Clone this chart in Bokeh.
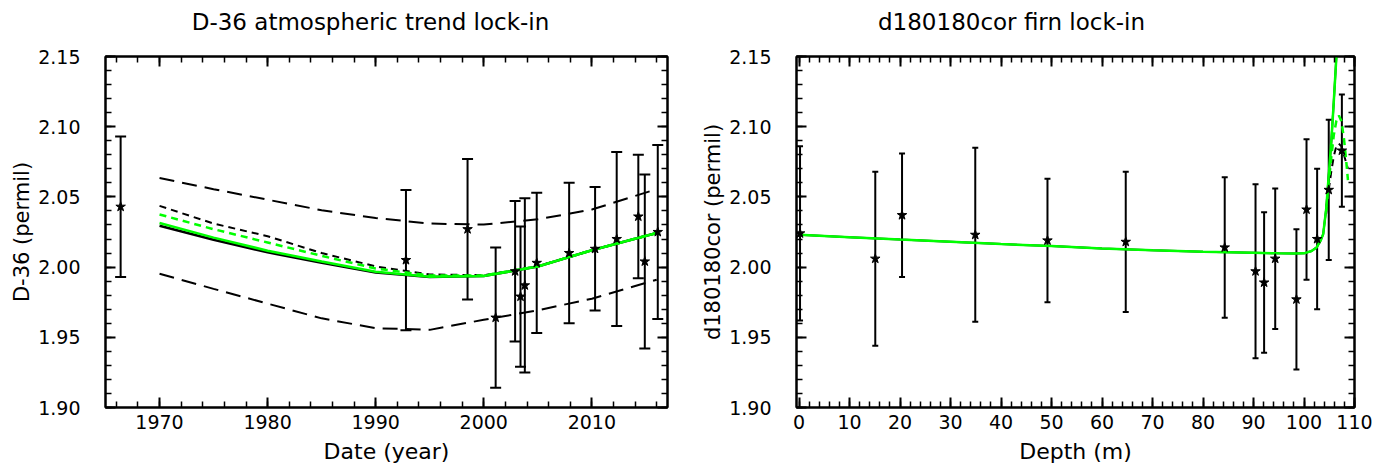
from bokeh.plotting import figure
from bokeh.models import (LinearAxis, SingleIntervalTicker, NumeralTickFormatter, Range1d,
                          Whisker, ColumnDataSource, TeeHead, CustomJSTickFormatter, Label)
from bokeh.layouts import row
from bokeh.embed import file_html
from bokeh.resources import INLINE

# ---------------- Left panel: D-36 atmospheric trend ----------------
d36_year = [1966.4, 1992.8, 1998.5, 2001.1, 2002.9, 2003.4, 2003.8, 2004.9, 2007.9, 2010.3,
            2012.3, 2014.3, 2014.9, 2016.1]
d36_val = [2.043, 2.005, 2.027, 1.964, 1.997, 1.979, 1.987, 2.003, 2.010, 2.013,
           2.020, 2.036, 2.004, 2.025]
d36_err = [0.050, 0.050, 0.050, 0.050, 0.050, 0.050, 0.062, 0.050, 0.050, 0.044,
           0.062, 0.044, 0.062, 0.062]

trend_year = [1970, 1975, 1980, 1985, 1990, 1995, 2000, 2005, 2010, 2016]
trend_black = [2.0295, 2.0195, 2.0105, 2.0030, 1.9962, 1.9930, 1.9937, 2.0004, 2.0120, 2.0243]
trend_green = [2.0314, 2.0210, 2.0117, 2.0040, 1.9967, 1.9932, 1.9937, 2.0004, 2.0120, 2.0243]
trend_green_dash = [2.0375, 2.0270, 2.0175, 2.0080, 1.9990, 1.9940, 1.9940, 2.0005, 2.0120, 2.0243]
trend_black_dash = [2.0436, 2.0310, 2.0220, 2.0100, 2.0005, 1.9948, 1.9942, 2.0006, 2.0120, 2.0243]
trend_upper = [2.0634, 2.0555, 2.0480, 2.0405, 2.0350, 2.0310, 2.0303, 2.0340, 2.0410, 2.0555]
trend_lower = [1.9953, 1.9845, 1.9740, 1.9635, 1.9565, 1.9553, 1.9625, 1.9692, 1.9775, 1.9910]

# ---------------- Right panel: d180180cor firn ----------------
firn_depth = [0.2, 15.1, 20.4, 34.9, 49.2, 64.7, 84.3, 90.4, 92.1, 94.3, 98.5, 100.5,
              102.6, 104.9, 107.5]
firn_val = [2.024, 2.006, 2.037, 2.023, 2.019, 2.018, 2.014, 1.997, 1.989, 2.006, 1.977,
            2.041, 2.020, 2.055, 2.083]
firn_err = [0.062, 0.062, 0.044, 0.062, 0.044, 0.050, 0.050, 0.062, 0.050, 0.050, 0.050,
            0.050, 0.050, 0.050, 0.040]

model_depth = [0, 10, 20, 30, 40, 50, 60, 70, 80, 90, 95, 98, 100, 101.5, 102.5, 103.3,
               103.8, 104.4, 104.9, 105.4, 105.9, 106.4, 106.8]
model_val = [2.0230, 2.0213, 2.0196, 2.0180, 2.0164, 2.0150, 2.0133, 2.0120, 2.0110, 2.0102,
             2.0098, 2.0096, 2.0098, 2.0115, 2.0140, 2.0190, 2.0235, 2.0416, 2.0655, 2.0890,
             2.1180, 2.1490, 2.1750]
tail_depth = [104.4, 104.9, 105.4, 105.9, 106.4, 106.9, 107.4, 107.9, 108.3, 108.7]
tail_green_dash = [2.0400, 2.0600, 2.0780, 2.0940, 2.1040, 2.1080, 2.1040, 2.0920, 2.0780, 2.0620]
tail_black_dash = [2.0380, 2.0550, 2.0680, 2.0790, 2.0860, 2.0880, 2.0860, 2.0800, 2.0750, 2.0700]

titles = ["D-36 atmospheric trend lock-in", "d180180cor firn lock-in"]

GREEN = "#00ff00"
FONT = "DejaVu Sans"
H = 470
TOP = 56
FRAME_H = 351


def style(p, xlabel, ylabel, title, title_dx):
    p.xgrid.visible = False
    p.ygrid.visible = False
    p.outline_line_color = "black"
    p.outline_line_width = 2
    p.background_fill_color = "white"

    xa = p.xaxis[0]
    ya = p.yaxis[0]
    for ax in (xa, ya):
        ax.axis_line_width = 2
        ax.major_tick_line_width = 2
        ax.minor_tick_line_width = 1.5
        ax.major_tick_in = 10
        ax.major_tick_out = 0
        ax.minor_tick_in = 6
        ax.minor_tick_out = 0
        ax.major_label_text_font = FONT
        ax.major_label_text_font_size = "19px"
        ax.major_label_text_color = "black"
        ax.axis_label_text_font = FONT
        ax.axis_label_text_font_style = "normal"
        ax.axis_label_text_color = "black"
    xa.axis_label = xlabel
    ya.axis_label = ylabel
    xa.axis_label_text_font_size = "22px"
    ya.axis_label_text_font_size = "21px"
    xa.major_label_standoff = 7
    xa.axis_label_standoff = 7
    ya.major_label_standoff = 25
    ya.axis_label_standoff = 1
    ya.formatter = NumeralTickFormatter(format="0.00")
    ya.ticker = SingleIntervalTicker(interval=0.05, num_minor_ticks=5)

    top = LinearAxis(ticker=xa.ticker, formatter=CustomJSTickFormatter(code="return ''"))
    right = LinearAxis(ticker=ya.ticker, formatter=CustomJSTickFormatter(code="return ''"))
    for ax in (top, right):
        ax.axis_line_width = 2
        ax.major_tick_line_width = 2
        ax.minor_tick_line_width = 1.5
        ax.major_tick_in = 10
        ax.major_tick_out = 0
        ax.minor_tick_in = 6
        ax.minor_tick_out = 0
        ax.major_label_standoff = 0
        ax.major_label_text_font_size = "1px"
    p.add_layout(top, "above")
    p.add_layout(right, "right")

    p.add_layout(Label(x=title_dx, y=35, x_units="screen", y_units="screen",
                       text=title, text_font=FONT, text_font_size="23px",
                       text_color="black", text_align="center", text_baseline="middle"),
                 "above")


# ---------------- Left figure ----------------
p1 = figure(width=698, height=H, x_range=Range1d(1965, 2017), y_range=Range1d(1.90, 2.15),
            output_backend="svg", toolbar_location=None,
            min_border_left=105, min_border_right=31, min_border_top=TOP,
            min_border_bottom=H - TOP - FRAME_H)
p1.xaxis[0].ticker = SingleIntervalTicker(interval=10, num_minor_ticks=5)
style(p1, "Date (year)", "D-36 (permil)", titles[0], 265)

p1.line(trend_year, trend_upper, line_color="black", line_width=2, line_dash="15 8")
p1.line(trend_year, trend_lower, line_color="black", line_width=2, line_dash="15 8")
p1.line(trend_year, trend_black_dash, line_color="black", line_width=2, line_dash="7 5")
p1.line(trend_year, trend_black, line_color="black", line_width=2.5)
p1.line(trend_year, trend_green_dash, line_color=GREEN, line_width=2.5, line_dash="7 5")
p1.line(trend_year, trend_green, line_color=GREEN, line_width=2.5)

src1 = ColumnDataSource(dict(x=d36_year, y=d36_val,
                             up=[v + e for v, e in zip(d36_val, d36_err)],
                             lo=[v - e for v, e in zip(d36_val, d36_err)]))
w1 = Whisker(source=src1, base="x", upper="up", lower="lo", dimension="height",
             line_color="black", line_width=2,
             upper_head=TeeHead(size=11, line_color="black", line_width=2),
             lower_head=TeeHead(size=11, line_color="black", line_width=2))
p1.add_layout(w1)
p1.scatter("x", "y", source=src1, marker="star", size=10, fill_color="black",
           line_color="black", line_width=1)

# ---------------- Right figure ----------------
p2 = figure(width=688, height=H, x_range=Range1d(-0.5, 110), y_range=Range1d(1.90, 2.15),
            output_backend="svg", toolbar_location=None,
            min_border_left=97, min_border_right=32, min_border_top=TOP,
            min_border_bottom=H - TOP - FRAME_H)
p2.xaxis[0].ticker = SingleIntervalTicker(interval=10, num_minor_ticks=5)
style(p2, "Depth (m)", "d180180cor (permil)", titles[1], 215)

p2.line(tail_depth, tail_black_dash, line_color="black", line_width=2, line_dash="7 5")
p2.line(tail_depth, tail_green_dash, line_color=GREEN, line_width=2.5, line_dash="7 5")
p2.line(model_depth, model_val, line_color="black", line_width=2)
p2.line(model_depth, model_val, line_color=GREEN, line_width=2.5)

src2 = ColumnDataSource(dict(x=firn_depth, y=firn_val,
                             up=[v + e for v, e in zip(firn_val, firn_err)],
                             lo=[v - e for v, e in zip(firn_val, firn_err)]))
w2 = Whisker(source=src2, base="x", upper="up", lower="lo", dimension="height",
             line_color="black", line_width=2,
             upper_head=TeeHead(size=6, line_color="black", line_width=2),
             lower_head=TeeHead(size=6, line_color="black", line_width=2))
p2.add_layout(w2)
p2.scatter("x", "y", source=src2, marker="star", size=10, fill_color="black",
           line_color="black", line_width=1)

layout = row(p1, p2)
open("out.html", "w").write(file_html(layout, INLINE))
